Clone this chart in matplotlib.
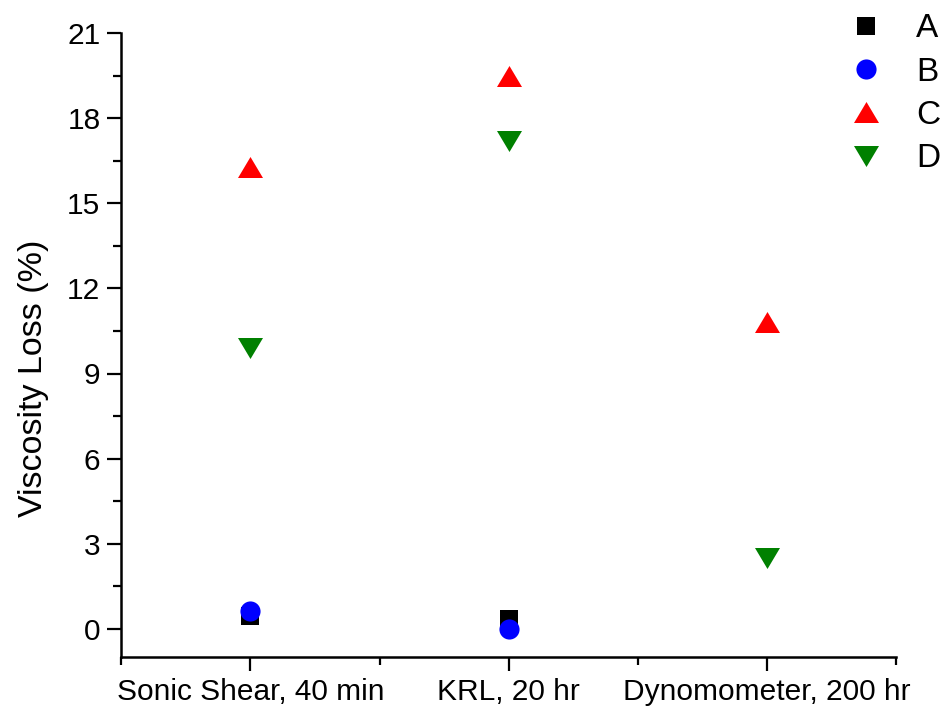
import numpy as np
import matplotlib
matplotlib.use("Agg")
import matplotlib.pyplot as plt
from matplotlib.ticker import MultipleLocator, FixedLocator

plt.rcParams['font.family'] = ['Liberation Sans', 'DejaVu Sans']

categories = ["Sonic Shear, 40 min", "KRL, 20 hr", "Dynomometer, 200 hr"]
series_names = ["A", "B", "C", "D"]
a_vals = [0.43, 0.33, np.nan]
b_vals = [0.62, 0.0, np.nan]
c_vals = [16.3, 19.5, 10.8]
d_vals = [9.9, 17.2, 2.5]

colors = ["black", "blue", "red", "green"]

# wider-than-tall triangles
up_tri = [(-1.0, -0.84), (1.0, -0.84), (0.0, 0.84), (-1.0, -0.84)]
down_tri = [(-1.0, 0.84), (1.0, 0.84), (0.0, -0.84), (-1.0, 0.84)]
markers = ["s", "o", up_tri, down_tri]
sizes = [13, 14.5, 18, 18]

fig = plt.figure(figsize=(9.45, 7.07), dpi=100)
ax = fig.add_axes([121.3 / 945, (707 - 657) / 707, (896 - 121.3) / 945, (657 - 33.3) / 707])

x = np.arange(1, len(categories) + 1)
for vals, name, c, m, s in zip([a_vals, b_vals, c_vals, d_vals], series_names, colors, markers, sizes):
    ax.plot(x, vals, linestyle="none", marker=m, markersize=s, color=c,
            markeredgewidth=0, label=name)

ax.set_xlim(0.5, 3.5)
ax.set_ylim(-1.0, 21)
ax.set_xticks(x)
ax.set_xticklabels(categories)
ax.xaxis.set_minor_locator(FixedLocator([0.5, 1.5, 2.5, 3.5]))
ax.yaxis.set_major_locator(MultipleLocator(3))
ax.yaxis.set_minor_locator(MultipleLocator(1.5))

for side in ("top", "right"):
    ax.spines[side].set_visible(False)
for side in ("left", "bottom"):
    ax.spines[side].set_linewidth(1.8)

ax.tick_params(which="major", direction="out", length=10, width=1.6, labelsize=21.5, pad=5)
ax.tick_params(which="minor", direction="out", length=6, width=1.6)

ax.set_ylabel("Viscosity Loss (%)", fontsize=24.5)
ax.yaxis.set_label_coords(-0.093, 0.447)

fig.legend(loc="upper left", bbox_to_anchor=(832.7 / 945, 1.0), frameon=False,
           fontsize=24, handletextpad=0.9, labelspacing=0.37, borderaxespad=0,
           handlelength=1.2)

fig.savefig("out.png", dpi=100)
